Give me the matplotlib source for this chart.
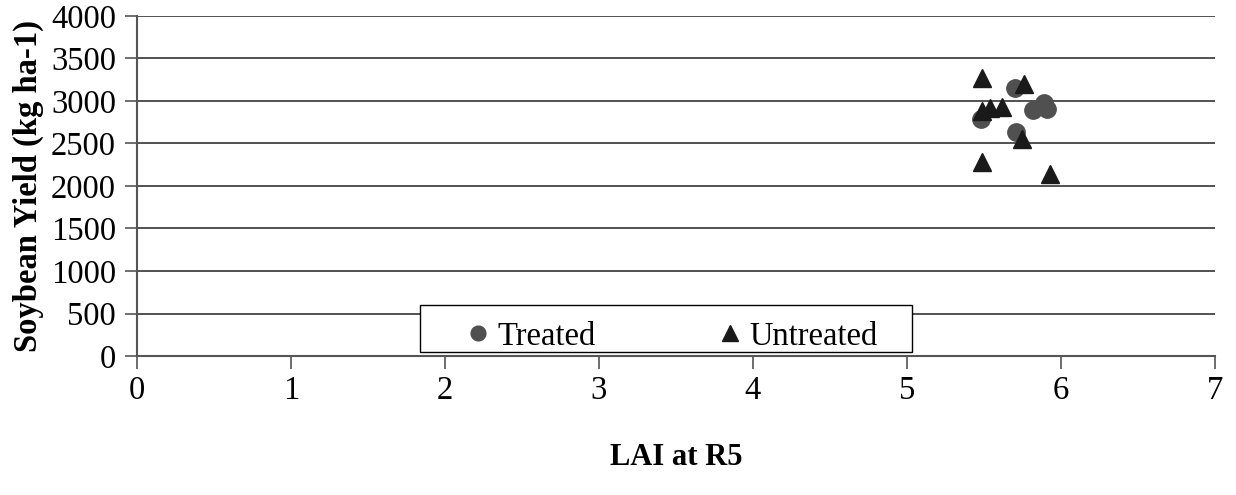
import matplotlib.pyplot as plt
from matplotlib.patches import Rectangle

plt.rcParams['font.family'] = ['Liberation Serif', 'DejaVu Serif']

# LAI at R5 vs soybean yield
treated_lai = [5.70, 5.48, 5.82, 5.89, 5.91, 5.71]
treated_yield = [3150, 2790, 2890, 2980, 2910, 2630]

untreated_lai = [5.49, 5.76, 5.49, 5.54, 5.62, 5.75, 5.49, 5.93]
untreated_yield = [3270, 3200, 2880, 2920, 2930, 2550, 2280, 2140]

fig = plt.figure(figsize=(12.36, 4.95), dpi=100)
ax = fig.add_axes([0.1108, 0.2808, 0.8722, 0.6869])

ax.plot(treated_lai, treated_yield, 'o', color='#505050', markersize=12.5,
        label='Treated', zorder=3)
ax.plot(untreated_lai, untreated_yield, '^', color='#1a1a1a', markersize=13,
        label='Untreated', zorder=3)

ax.set_xlim(0, 7)
ax.set_ylim(0, 4000)
ax.set_xticks(range(0, 8))
ax.set_yticks(range(0, 4001, 500))
ax.grid(axis='y', color='#333333', linewidth=1.2)
ax.set_axisbelow(True)

for s in ['top', 'right']:
    ax.spines[s].set_visible(False)
ax.spines['left'].set_color('#555555')
ax.spines['bottom'].set_color('#555555')
ax.spines['left'].set_linewidth(1.5)
ax.spines['bottom'].set_linewidth(1.5)

ax.tick_params(axis='both', labelsize=23.5, direction='out', length=9,
               color='#555555', width=1.2)
ax.tick_params(axis='x', pad=5)
ax.tick_params(axis='y', pad=6)

ax.set_xlabel('LAI at R5', fontsize=22, fontweight='bold', labelpad=27)
ax.set_ylabel('Soybean Yield (kg ha-1)', fontsize=23.5, fontweight='bold', labelpad=5)

# legend box drawn separately so entries sit in the middle
box = Rectangle((0.2625, 0.0118), 0.4564, 0.1382, transform=ax.transAxes,
                facecolor='white', edgecolor='black', linewidth=1.0, zorder=4)
ax.add_patch(box)
leg = ax.legend(loc='center', bbox_to_anchor=(0.494, 0.058), ncol=2,
                fontsize=23.5, frameon=False, handletextpad=0.1,
                handlelength=1.0, columnspacing=3.6, markerscale=0.85,
                borderaxespad=0)
leg.set_zorder(5)

fig.savefig('out.png', dpi=100)
